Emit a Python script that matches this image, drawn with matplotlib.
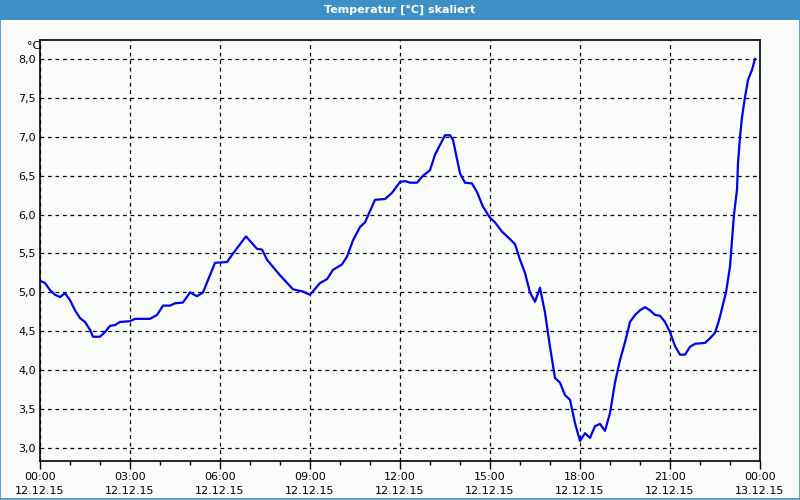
import matplotlib
matplotlib.use("Agg")
import matplotlib.pyplot as plt
from matplotlib.patches import Rectangle

# Zeit in Minuten ab 12.12.15 00:00, Temperatur in °C
minutes = [0, 10, 20, 30, 40, 50, 60, 70, 80, 90, 100, 106, 120, 130, 140, 150,
           160, 180, 190, 220, 234, 246, 260, 270, 286, 300, 314, 326, 350, 374,
           386, 412, 434, 444, 454, 480, 506, 526, 540, 560, 574, 586, 604, 614,
           626, 640, 650, 670, 690, 704, 720, 730, 740, 754, 766, 780, 790, 810,
           820, 826, 840, 850, 864, 874, 886, 900, 910, 924, 936, 950, 960, 970,
           980, 990, 1000, 1010, 1020, 1030, 1040, 1050, 1060, 1070, 1080, 1090,
           1100, 1110, 1120, 1130, 1140, 1150, 1160, 1170, 1180, 1190, 1200, 1210,
           1220, 1230, 1240, 1250, 1260, 1270, 1280, 1290, 1300, 1310, 1330, 1340,
           1350, 1358, 1372, 1380, 1384, 1388, 1394, 1396, 1400, 1404, 1410, 1416,
           1424, 1430]
temps = [5.15, 5.12, 5.03, 4.97, 4.94, 4.99, 4.90, 4.77, 4.67, 4.62, 4.52, 4.43,
         4.43, 4.49, 4.57, 4.58, 4.62, 4.63, 4.66, 4.66, 4.71, 4.83, 4.83, 4.86,
         4.87, 5.00, 4.95, 5.00, 5.38, 5.39, 5.50, 5.72, 5.56, 5.55, 5.42, 5.22,
         5.04, 5.01, 4.97, 5.12, 5.17, 5.29, 5.36, 5.46, 5.67, 5.84, 5.90, 6.19,
         6.20, 6.28, 6.42, 6.43, 6.41, 6.41, 6.50, 6.57, 6.77, 7.02, 7.02, 6.96,
         6.53, 6.41, 6.40, 6.29, 6.10, 5.96, 5.90, 5.78, 5.71, 5.62, 5.42, 5.25,
         5.00, 4.88, 5.06, 4.74, 4.30, 3.90, 3.84, 3.68, 3.62, 3.32, 3.09, 3.19,
         3.13, 3.28, 3.31, 3.22, 3.45, 3.84, 4.13, 4.36, 4.62, 4.71, 4.77, 4.81,
         4.77, 4.71, 4.70, 4.62, 4.49, 4.31, 4.20, 4.20, 4.30, 4.34, 4.35, 4.41,
         4.48, 4.64, 5.00, 5.33, 5.67, 6.00, 6.32, 6.66, 7.00, 7.25, 7.51, 7.73,
         7.86, 8.00]

x_ticks = [0, 180, 360, 540, 720, 900, 1080, 1260, 1440]
x_labels = ["00:00\n12.12.15", "03:00\n12.12.15", "06:00\n12.12.15",
            "09:00\n12.12.15", "12:00\n12.12.15", "15:00\n12.12.15",
            "18:00\n12.12.15", "21:00\n12.12.15", "00:00\n13.12.15"]
y_ticks = [3.0, 3.5, 4.0, 4.5, 5.0, 5.5, 6.0, 6.5, 7.0, 7.5, 8.0]
y_labels = ["3,0", "3,5", "4,0", "4,5", "5,0", "5,5", "6,0", "6,5", "7,0", "7,5", "8,0"]

plt.rcParams['font.family'] = ['DejaVu Sans']

fig = plt.figure(figsize=(8, 5), dpi=100, facecolor="#fafcfa")

# Titelleiste und Rahmen
fig.patches.append(Rectangle((0, 0.96), 1, 0.04, transform=fig.transFigure,
                             facecolor="#3d8fc6", edgecolor="none"))
fig.patches.append(Rectangle((0.0006, 0.002), 0.9988, 0.96, transform=fig.transFigure,
                             facecolor="none", edgecolor="#3d8fc6", linewidth=1.2))
fig.text(0.5, 0.98, "Temperatur [°C] skaliert", color="white", fontsize=8,
         fontweight="bold", ha="center", va="center")

ax = fig.add_axes([0.05, 0.078, 0.90, 0.842])
ax.set_facecolor("#fafcfa")
ax.plot(minutes, temps, color="#0000e6", linewidth=1.6)

ax.set_xlim(0, 1440)
ax.set_ylim(2.833, 8.244)
ax.set_xticks(x_ticks)
ax.set_xticklabels(x_labels, fontsize=8, linespacing=1.45)
ax.set_xticks(range(0, 1441, 60), minor=True)
ax.set_yticks(y_ticks)
ax.set_yticklabels(y_labels, fontsize=8)
ax.tick_params(axis="x", which="major", length=6, width=1, direction="out", pad=2)
ax.tick_params(axis="x", which="minor", length=3, width=1, direction="out")
ax.tick_params(axis="y", length=0, pad=3)
ax.grid(True, which="major", color="black", linestyle=(0, (3, 3)), linewidth=0.9)
for s in ax.spines.values():
    s.set_linewidth(1.2)

fig.text(0.034, 0.908, "°C", fontsize=8, ha="left", va="center")

fig.savefig("out.png", dpi=100, facecolor=fig.get_facecolor())
